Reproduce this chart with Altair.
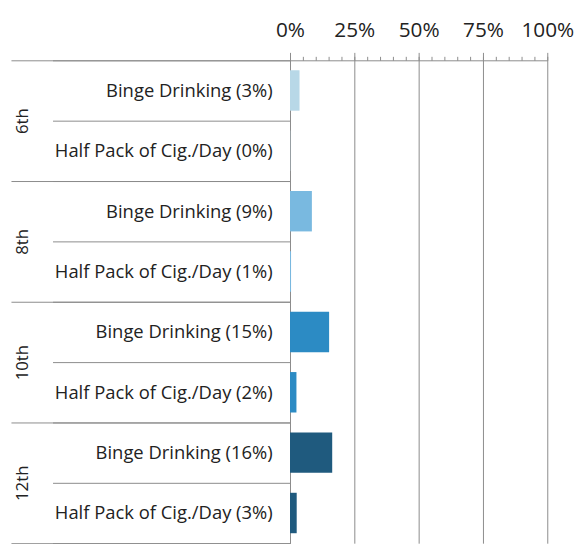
import altair as alt
import pandas as pd

grades = ["6th", "8th", "10th", "12th"]
binge_labels = ["Binge Drinking (3%)", "Binge Drinking (9%)", "Binge Drinking (15%)", "Binge Drinking (16%)"]
binge_values = [3.7, 8.5, 15.2, 16.4]
cig_labels = ["Half Pack of Cig./Day (0%)", "Half Pack of Cig./Day (1%)", "Half Pack of Cig./Day (2%)", "Half Pack of Cig./Day (3%)"]
cig_values = [0.1, 0.4, 2.5, 2.6]
grade_colors = ["#b8d8e7", "#79b9e0", "#2c8bc4", "#1f5a7e"]
major_ticks = [0, 0.25, 0.5, 0.75, 1]
minor_ticks = [0, 0.05, 0.1, 0.15, 0.2, 0.25, 0.3, 0.35, 0.4, 0.45, 0.5,
               0.55, 0.6, 0.65, 0.7, 0.75, 0.8, 0.85, 0.9, 0.95, 1]

rows = []
for g, bl, bv, cl, cv in zip(grades, binge_labels, binge_values, cig_labels, cig_values):
    rows.append({"grade": g, "label": bl, "value": bv / 100})
    rows.append({"grade": g, "label": cl, "value": cv / 100})
df = pd.DataFrame(rows)
order = [r["label"] for r in rows]
gdf = pd.DataFrame({"grade": grades})

LINE = "#8c8c8c"
FONT = "Open Sans"

bars = alt.Chart(df).mark_bar(height={"band": 0.67}).encode(
    x=alt.X("value:Q", scale=alt.Scale(domain=[0, 1]),
            axis=alt.Axis(orient="top", values=major_ticks, format="%", grid=True,
                          gridColor=LINE, domainColor=LINE, tickColor=LINE, tickSize=8,
                          labelFontSize=21, labelFont=FONT, labelColor="#222", labelPadding=12,
                          labelOverlap=False, labelFlush=False, labelBound=False,
                          title=None)),
    y=alt.Y("label:N", sort=order, scale=alt.Scale(paddingInner=0, paddingOuter=0),
            axis=alt.Axis(orient="left", tickBand="extent", tickSize=240, labelPadding=-222,
                          labelAlign="right", labelBaseline="middle", labelFontSize=18.6,
                          labelFont=FONT, labelColor="#222", labelLimit=400,
                          tickColor=LINE, domainColor=LINE, grid=False, title=None)),
    color=alt.Color("grade:N", scale=alt.Scale(domain=grades, range=grade_colors), legend=None),
)

grade_layer = alt.Chart(gdf).mark_point(opacity=0).encode(
    x=alt.XDatum(0, type="quantitative", scale=alt.Scale(domain=[0, 1]),
                 axis=alt.Axis(orient="top", values=minor_ticks, labels=False, domain=False,
                               grid=False, tickSize=4, tickColor=LINE, title=None)),
    y=alt.Y("grade:N", sort=grades, scale=alt.Scale(paddingInner=0, paddingOuter=0),
            axis=alt.Axis(orient="left", tickBand="extent", tickSize=282, labelPadding=-12,
                          labelAngle=270, labelAlign="center", labelBaseline="middle",
                          labelFontSize=17, labelFont=FONT, labelColor="#222",
                          tickColor=LINE, domain=False, grid=False, title=None)),
)

chart = alt.layer(bars, grade_layer).resolve_scale(
    x="independent", y="independent"
).properties(
    width=260, height=488, padding={"left": 2, "top": 9, "right": 0, "bottom": 0}
).configure_view(stroke=None)

chart.save("out.html", embed_options={"renderer": "svg", "actions": False})
